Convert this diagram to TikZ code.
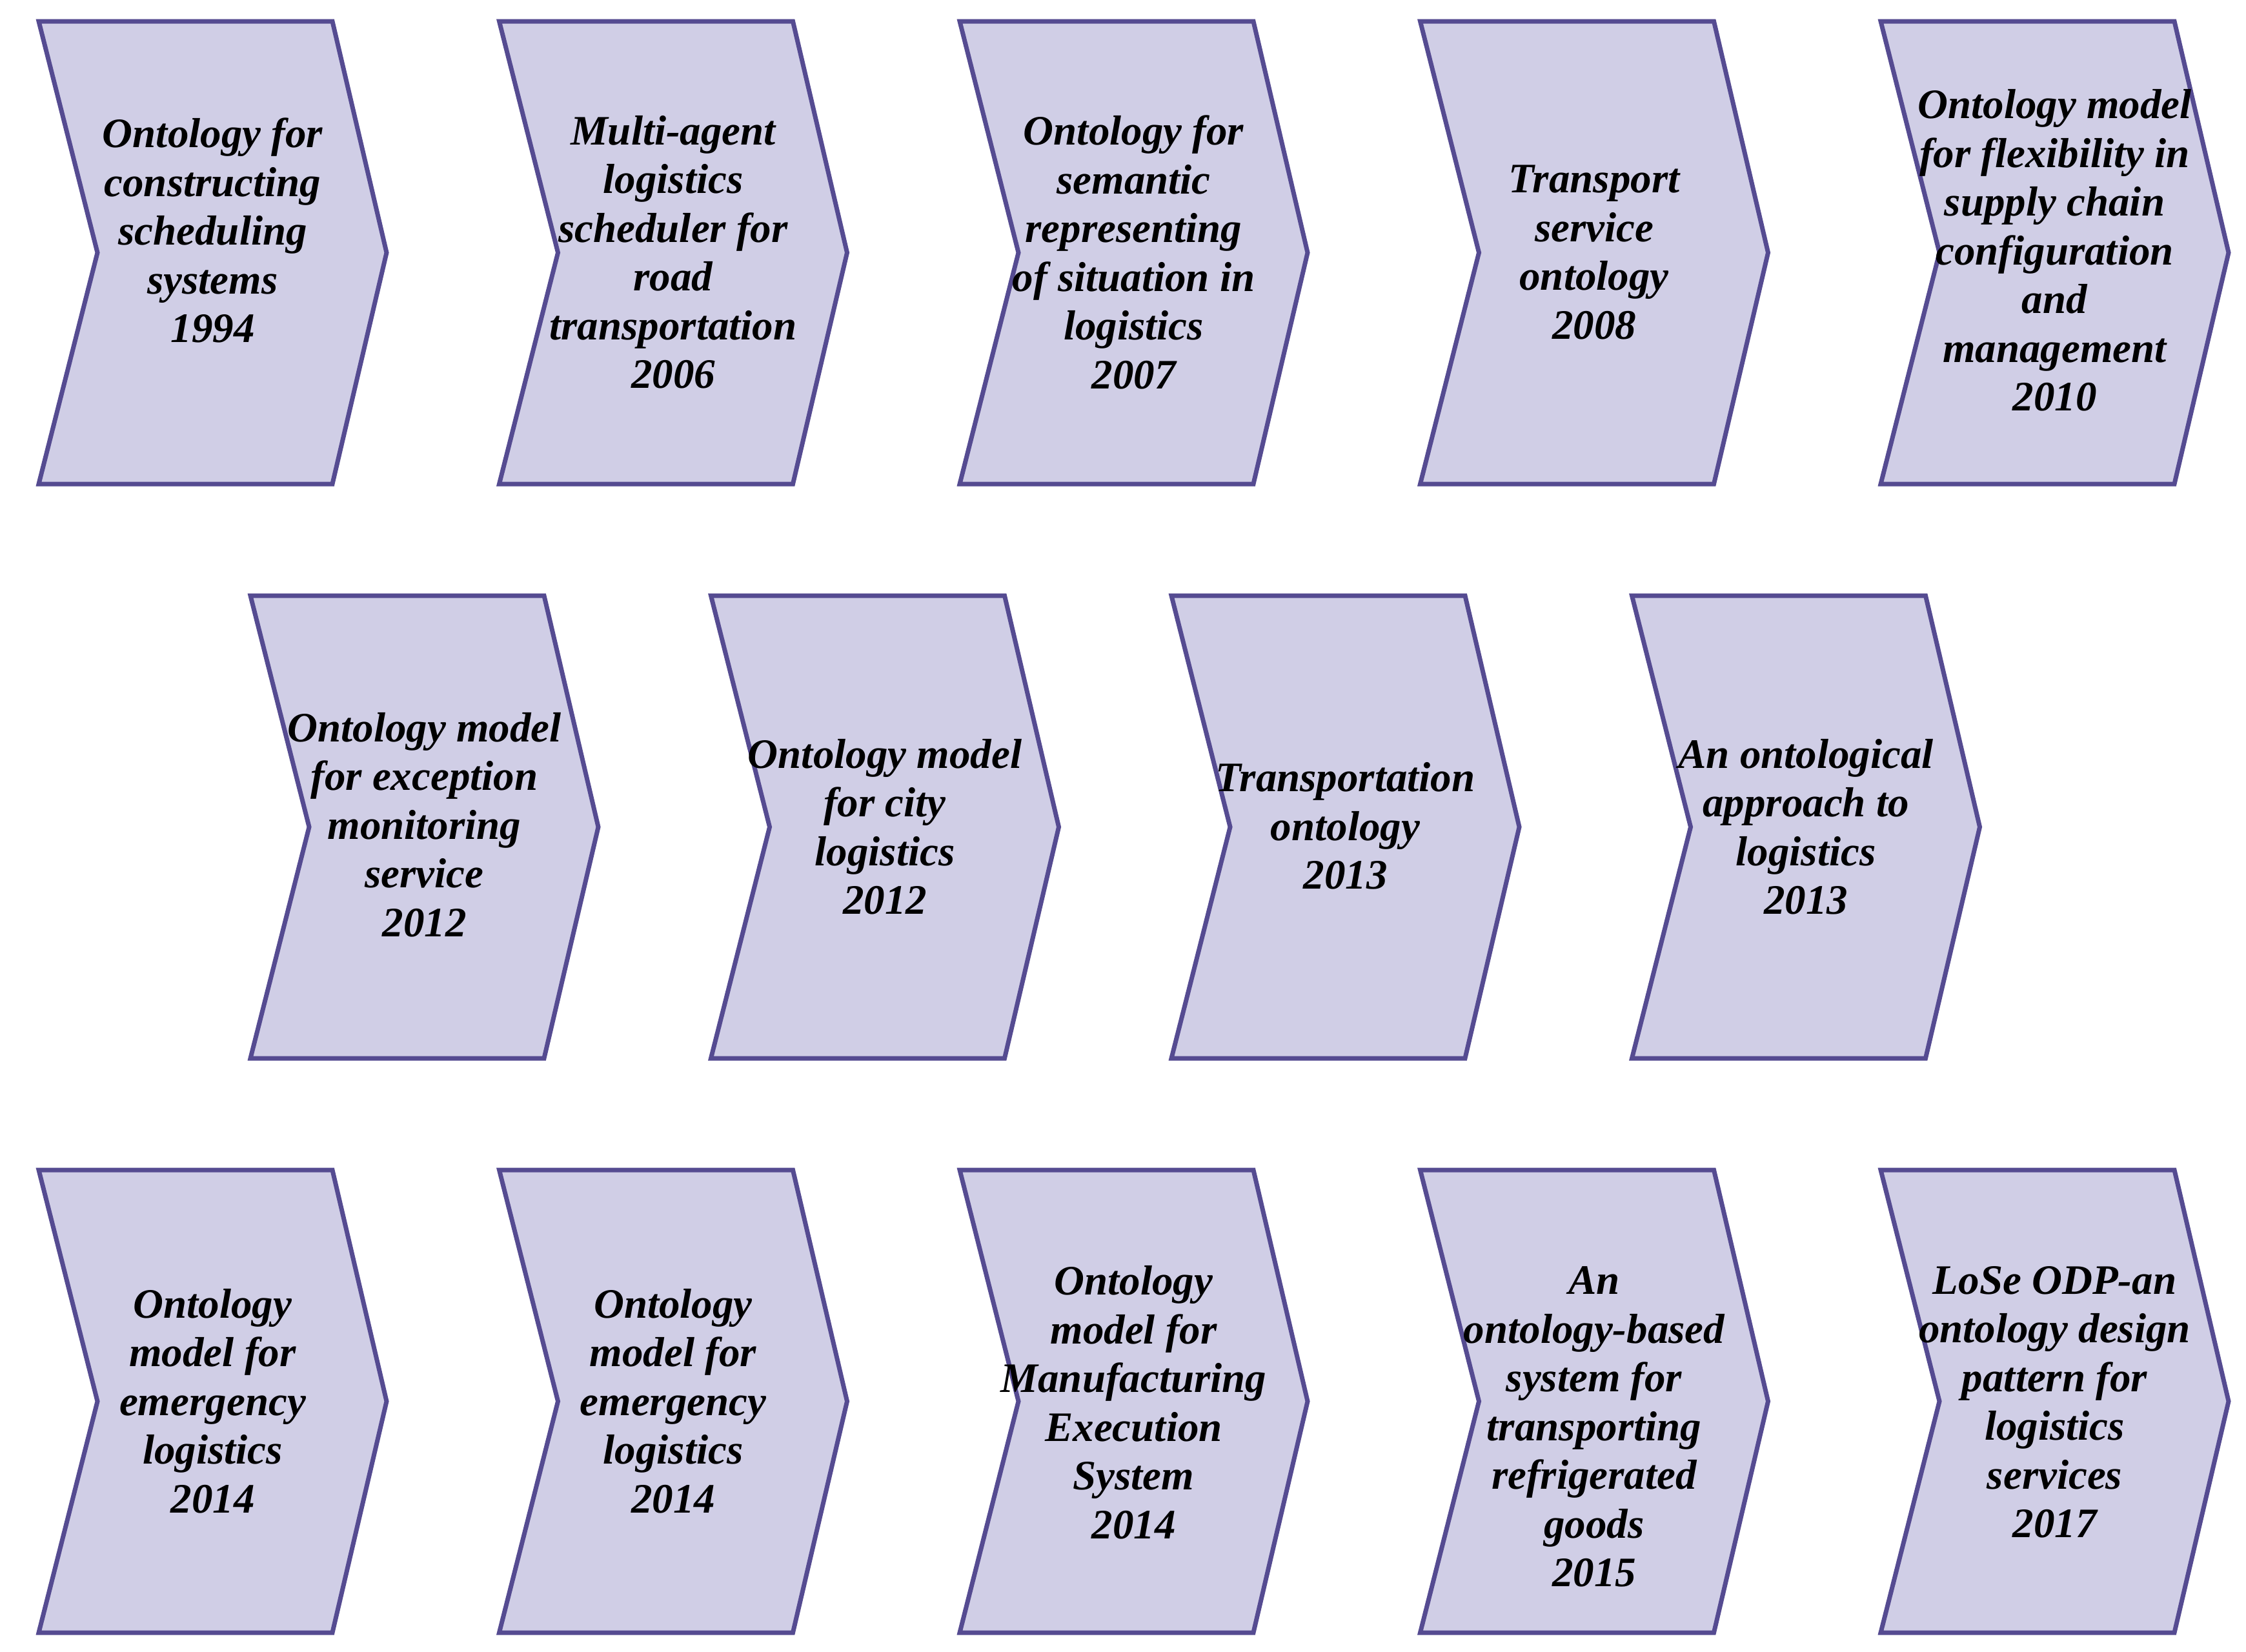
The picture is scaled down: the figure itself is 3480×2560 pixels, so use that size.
\documentclass[tikz,border=0pt]{standalone}
\usepackage{fontspec}
\setmainfont{Liberation Serif}
\definecolor{chevfill}{RGB}{208,206,230}
\definecolor{chevline}{RGB}{85,75,145}
\tikzset{
  chevshape/.style={draw=chevline, fill=chevfill, line width=1.4pt, line join=miter},
  chevtext/.style={align=center, inner sep=0pt, text=black,
    font={\fontsize{13}{15.1}\selectfont\bfseries\itshape}}
}
% #1 name, #2 left x, #3 top y, #4 text y, #5 text
\newcommand{\chevbox}[5]{%
  \draw[chevshape] (#2,#3) -- ++(455,0) -- ++(84,358.5) -- ++(-84,358.5) -- ++(-455,0) -- ++(91,-358.5) -- cycle;
  \node[chevtext] (#1) at ({#2+269.5},#4) {#5};
}
\begin{document}
\begin{tikzpicture}[x=0.2pt,y=-0.2pt]
\useasboundingbox (0,0) rectangle (3480,2560);
% row 1
\chevbox{c1}{60}{33}{357}{Ontology for\\constructing\\scheduling\\systems\\1994}
\chevbox{c2}{773.5}{33}{391}{Multi-agent\\logistics\\scheduler for\\road\\transportation\\2006}
\chevbox{c3}{1487}{33}{391}{Ontology for\\semantic\\representing\\of situation in\\logistics\\2007}
\chevbox{c4}{2200.5}{33}{391}{Transport\\service\\ontology\\2008}
\chevbox{c5}{2914}{33}{388}{Ontology model\\for flexibility in\\supply chain\\configuration\\and\\management\\2010}
% row 2
\chevbox{c6}{388}{923}{1278}{Ontology model\\for exception\\monitoring\\service\\2012}
\chevbox{c7}{1101.5}{923}{1281}{Ontology model\\for city\\logistics\\2012}
\chevbox{c8}{1815}{923}{1280}{Transportation\\ontology\\2013}
\chevbox{c9}{2528.5}{923}{1281}{An ontological\\approach to\\logistics\\2013}
% row 3
\chevbox{c10}{60}{1813}{2171}{Ontology\\model for\\emergency\\logistics\\2014}
\chevbox{c11}{773.5}{1813}{2171}{Ontology\\model for\\emergency\\logistics\\2014}
\chevbox{c12}{1487}{1813}{2173}{Ontology\\model for\\Manufacturing\\Execution\\System\\2014}
\chevbox{c13}{2200.5}{1813}{2211}{An\\ontology-based\\system for\\transporting\\refrigerated\\goods\\2015}
\chevbox{c14}{2914}{1813}{2173}{LoSe ODP-an\\ontology design\\pattern for\\logistics\\services\\2017}
\end{tikzpicture}
\end{document}
